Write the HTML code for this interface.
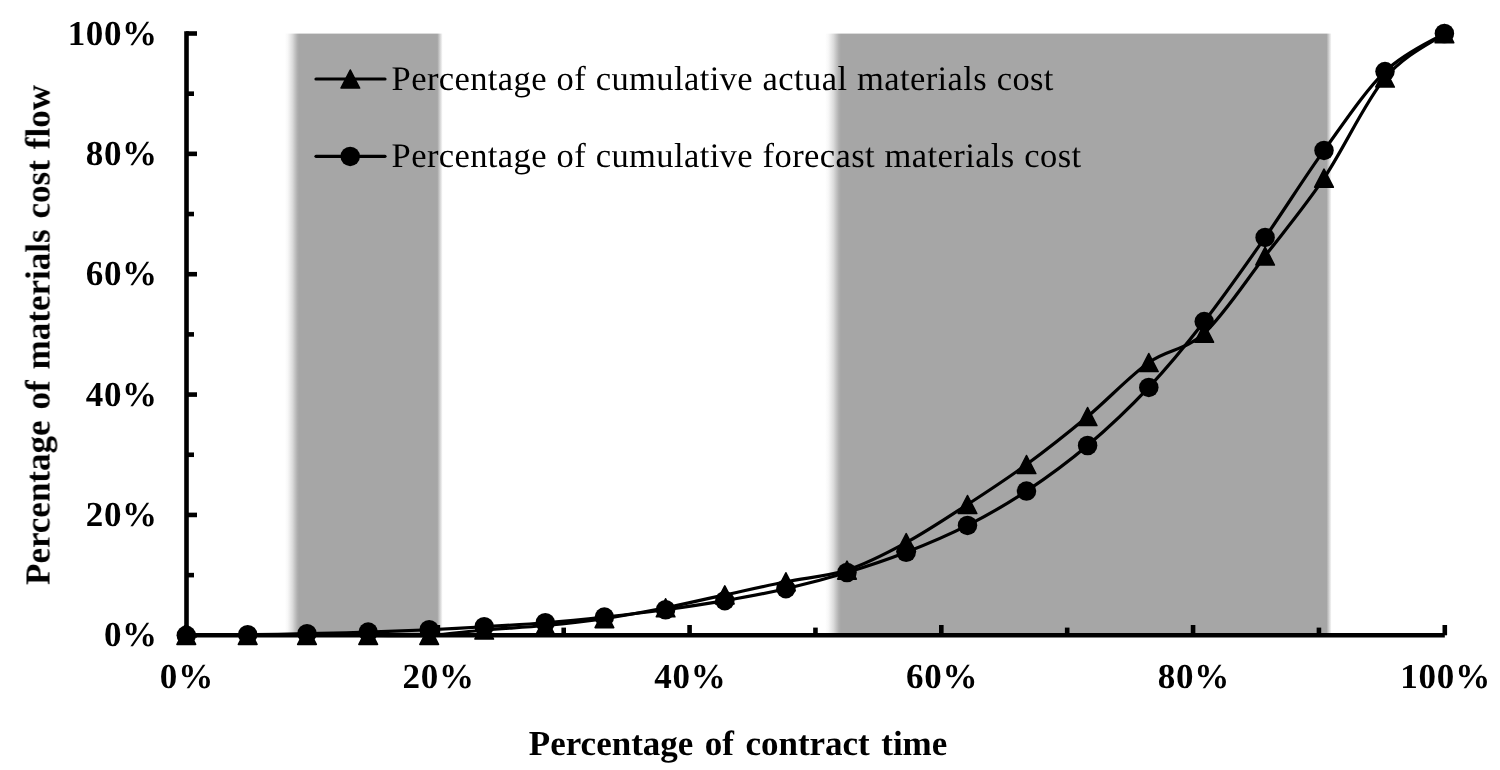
<!DOCTYPE html>
<html><head><meta charset="utf-8"><title>Chart</title>
<style>
html,body{margin:0;padding:0;background:#fff;}
body{text-rendering:geometricPrecision;width:1500px;height:770px;position:relative;overflow:hidden;font-family:"Liberation Serif",serif;color:#000;}
.t{position:absolute;white-space:nowrap;line-height:1;will-change:opacity;}
.yl{font-weight:bold;font-size:35px;text-align:right;width:150px;left:7.6px;letter-spacing:0.6px;}
.xl{font-weight:bold;font-size:35px;text-align:center;width:200px;letter-spacing:0.8px;}
.lg{font-size:34.5px;left:391.6px;word-spacing:0.6px;letter-spacing:0.4px;}
</style></head><body>
<svg width="1500" height="770" viewBox="0 0 1500 770" style="position:absolute;left:0;top:0">
<defs><linearGradient id="g1" gradientUnits="userSpaceOnUse" x1="284.80" y1="0" x2="442.70" y2="0"><stop offset="0.00000" stop-color="#a6a6a6" stop-opacity="0.00"/><stop offset="0.01824" stop-color="#a6a6a6" stop-opacity="0.08"/><stop offset="0.03374" stop-color="#a6a6a6" stop-opacity="0.24"/><stop offset="0.04925" stop-color="#a6a6a6" stop-opacity="0.42"/><stop offset="0.06384" stop-color="#a6a6a6" stop-opacity="0.66"/><stop offset="0.07934" stop-color="#a6a6a6" stop-opacity="0.90"/><stop offset="0.09120" stop-color="#a6a6a6" stop-opacity="1.00"/><stop offset="0.96580" stop-color="#a6a6a6" stop-opacity="1"/><stop offset="1" stop-color="#a6a6a6" stop-opacity="0"/></linearGradient><linearGradient id="g2" gradientUnits="userSpaceOnUse" x1="825.10" y1="0" x2="1331.60" y2="0"><stop offset="0.00000" stop-color="#a6a6a6" stop-opacity="0.00"/><stop offset="0.00628" stop-color="#a6a6a6" stop-opacity="0.08"/><stop offset="0.01162" stop-color="#a6a6a6" stop-opacity="0.24"/><stop offset="0.01695" stop-color="#a6a6a6" stop-opacity="0.42"/><stop offset="0.02197" stop-color="#a6a6a6" stop-opacity="0.66"/><stop offset="0.02731" stop-color="#a6a6a6" stop-opacity="0.90"/><stop offset="0.03139" stop-color="#a6a6a6" stop-opacity="1.00"/><stop offset="0.98993" stop-color="#a6a6a6" stop-opacity="1"/><stop offset="1" stop-color="#a6a6a6" stop-opacity="0"/></linearGradient></defs>
<rect x="284.80" y="33.6" width="157.90" height="601.4" fill="url(#g1)"/>
<rect x="825.10" y="33.6" width="506.50" height="601.4" fill="url(#g2)"/>
<g stroke="#000" stroke-width="4.6" fill="none">
<line x1="186.5" y1="31.2" x2="186.5" y2="637.6"/>
<line x1="184.2" y1="635.3" x2="1444.8" y2="635.3"/>
</g>
<g stroke="#000" stroke-width="4.6" fill="none">
<line x1="186" y1="635.30" x2="197" y2="635.30"/>
<line x1="186" y1="575.12" x2="194" y2="575.12"/>
<line x1="186" y1="514.94" x2="197" y2="514.94"/>
<line x1="186" y1="454.76" x2="194" y2="454.76"/>
<line x1="186" y1="394.58" x2="197" y2="394.58"/>
<line x1="186" y1="334.40" x2="194" y2="334.40"/>
<line x1="186" y1="274.22" x2="197" y2="274.22"/>
<line x1="186" y1="214.04" x2="194" y2="214.04"/>
<line x1="186" y1="153.86" x2="197" y2="153.86"/>
<line x1="186" y1="93.68" x2="194" y2="93.68"/>
<line x1="186" y1="33.50" x2="197" y2="33.50"/>
</g>
<g stroke="#000" stroke-width="4.6" fill="none">
<line x1="186.10" y1="635.3" x2="186.10" y2="625.0"/>
<line x1="311.97" y1="635.3" x2="311.97" y2="627.6"/>
<line x1="437.84" y1="635.3" x2="437.84" y2="625.0"/>
<line x1="563.71" y1="635.3" x2="563.71" y2="627.6"/>
<line x1="689.58" y1="635.3" x2="689.58" y2="625.0"/>
<line x1="815.45" y1="635.3" x2="815.45" y2="627.6"/>
<line x1="941.32" y1="635.3" x2="941.32" y2="625.0"/>
<line x1="1067.19" y1="635.3" x2="1067.19" y2="627.6"/>
<line x1="1193.06" y1="635.3" x2="1193.06" y2="625.0"/>
<line x1="1318.93" y1="635.3" x2="1318.93" y2="627.6"/>
<line x1="1444.80" y1="635.3" x2="1444.80" y2="625.0"/>
</g>
<path d="M186.30,635.40 C196.53,635.40 227.58,635.40 247.70,635.40 C267.82,635.40 286.92,635.40 307.00,635.40 C327.08,635.40 347.83,635.40 368.20,635.40 C388.57,635.40 409.87,636.30 429.20,635.40 C448.53,634.50 464.85,631.65 484.20,630.00 C503.55,628.35 525.27,627.40 545.30,625.50 C565.33,623.60 584.35,621.55 604.40,618.60 C624.45,615.65 645.53,611.75 665.60,607.80 C685.67,603.85 704.75,599.23 724.80,594.90 C744.85,590.57 765.53,585.93 785.90,581.80 C806.27,577.67 826.95,576.63 847.00,570.10 C867.05,563.57 886.12,553.53 906.20,542.60 C926.28,531.67 947.45,517.52 967.50,504.50 C987.55,491.48 1006.48,479.17 1026.50,464.50 C1046.52,449.83 1067.22,433.50 1087.60,416.50 C1107.98,399.50 1129.37,376.38 1148.80,362.50 C1168.23,348.62 1184.82,350.95 1204.20,333.20 C1223.58,315.45 1245.13,281.83 1265.10,256.00 C1285.07,230.17 1304.02,207.87 1324.00,178.20 C1343.98,148.53 1364.93,102.08 1385.00,78.00 C1405.07,53.92 1434.50,41.08 1444.40,33.70" stroke="#000" stroke-width="3.2" fill="none" stroke-linejoin="round" stroke-linecap="round"/>
<g fill="#000" stroke="#000" stroke-width="1.6" stroke-linejoin="round"><path d="M186.30,626.40 L195.60,644.40 L177.00,644.40 Z"/><path d="M247.70,626.40 L257.00,644.40 L238.40,644.40 Z"/><path d="M307.00,626.40 L316.30,644.40 L297.70,644.40 Z"/><path d="M368.20,626.40 L377.50,644.40 L358.90,644.40 Z"/><path d="M429.20,626.40 L438.50,644.40 L419.90,644.40 Z"/><path d="M484.20,621.00 L493.50,639.00 L474.90,639.00 Z"/><path d="M545.30,616.50 L554.60,634.50 L536.00,634.50 Z"/><path d="M604.40,609.60 L613.70,627.60 L595.10,627.60 Z"/><path d="M665.60,598.80 L674.90,616.80 L656.30,616.80 Z"/><path d="M724.80,585.90 L734.10,603.90 L715.50,603.90 Z"/><path d="M785.90,572.80 L795.20,590.80 L776.60,590.80 Z"/><path d="M847.00,561.10 L856.30,579.10 L837.70,579.10 Z"/><path d="M906.20,533.60 L915.50,551.60 L896.90,551.60 Z"/><path d="M967.50,495.50 L976.80,513.50 L958.20,513.50 Z"/><path d="M1026.50,455.50 L1035.80,473.50 L1017.20,473.50 Z"/><path d="M1087.60,407.50 L1096.90,425.50 L1078.30,425.50 Z"/><path d="M1148.80,353.50 L1158.10,371.50 L1139.50,371.50 Z"/><path d="M1204.20,324.20 L1213.50,342.20 L1194.90,342.20 Z"/><path d="M1265.10,247.00 L1274.40,265.00 L1255.80,265.00 Z"/><path d="M1324.00,169.20 L1333.30,187.20 L1314.70,187.20 Z"/><path d="M1385.00,69.00 L1394.30,87.00 L1375.70,87.00 Z"/><path d="M1444.40,24.70 L1453.70,42.70 L1435.10,42.70 Z"/></g>
<path d="M186.30,635.30 C196.53,635.20 227.58,634.97 247.70,634.70 C267.82,634.43 286.92,634.13 307.00,633.70 C327.08,633.27 347.83,632.76 368.20,632.10 C388.57,631.44 409.87,630.64 429.20,629.75 C448.53,628.86 464.85,627.92 484.20,626.75 C503.55,625.58 525.27,624.36 545.30,622.75 C565.33,621.14 584.35,619.27 604.40,617.10 C624.45,614.93 645.53,612.48 665.60,609.75 C685.67,607.02 704.75,604.21 724.80,600.70 C744.85,597.19 765.53,593.40 785.90,588.70 C806.27,584.00 826.95,578.57 847.00,572.50 C867.05,566.43 886.12,560.15 906.20,552.30 C926.28,544.45 947.45,535.60 967.50,525.40 C987.55,515.20 1006.48,504.42 1026.50,491.10 C1046.52,477.78 1067.22,462.78 1087.60,445.50 C1107.98,428.22 1129.37,408.05 1148.80,387.40 C1168.23,366.75 1184.82,346.60 1204.20,321.60 C1223.58,296.60 1245.13,265.93 1265.10,237.40 C1285.07,208.87 1304.02,178.03 1324.00,150.40 C1343.98,122.77 1364.93,91.08 1385.00,71.60 C1405.07,52.12 1434.50,39.85 1444.40,33.50" stroke="#000" stroke-width="3.2" fill="none" stroke-linejoin="round" stroke-linecap="round"/>
<g fill="#000"><circle cx="186.30" cy="635.30" r="9.75"/><circle cx="247.70" cy="634.70" r="9.75"/><circle cx="307.00" cy="633.70" r="9.75"/><circle cx="368.20" cy="632.10" r="9.75"/><circle cx="429.20" cy="629.75" r="9.75"/><circle cx="484.20" cy="626.75" r="9.75"/><circle cx="545.30" cy="622.75" r="9.75"/><circle cx="604.40" cy="617.10" r="9.75"/><circle cx="665.60" cy="609.75" r="9.75"/><circle cx="724.80" cy="600.70" r="9.75"/><circle cx="785.90" cy="588.70" r="9.75"/><circle cx="847.00" cy="572.50" r="9.75"/><circle cx="906.20" cy="552.30" r="9.75"/><circle cx="967.50" cy="525.40" r="9.75"/><circle cx="1026.50" cy="491.10" r="9.75"/><circle cx="1087.60" cy="445.50" r="9.75"/><circle cx="1148.80" cy="387.40" r="9.75"/><circle cx="1204.20" cy="321.60" r="9.75"/><circle cx="1265.10" cy="237.40" r="9.75"/><circle cx="1324.00" cy="150.40" r="9.75"/><circle cx="1385.00" cy="71.60" r="9.75"/><circle cx="1444.40" cy="33.50" r="9.75"/></g>
<g stroke="#000" stroke-width="3.2" stroke-linecap="round"><line x1="316" y1="79" x2="385" y2="79"/><line x1="316" y1="156.3" x2="385" y2="156.3"/></g>
<g fill="#000" stroke="#000" stroke-width="1.6" stroke-linejoin="round"><path d="M350.30,70.00 L359.60,88.00 L341.00,88.00 Z"/></g><circle cx="350.2" cy="156.4" r="9.75" fill="#000"/>
</svg>
<div class="t yl" style="top:617.3px">0%</div>
<div class="t yl" style="top:496.9px">20%</div>
<div class="t yl" style="top:376.6px">40%</div>
<div class="t yl" style="top:256.2px">60%</div>
<div class="t yl" style="top:135.9px">80%</div>
<div class="t yl" style="top:15.5px">100%</div>
<div class="t xl" style="left:86.9px;top:659.3px">0%</div>
<div class="t xl" style="left:338.6px;top:659.3px">20%</div>
<div class="t xl" style="left:590.4px;top:659.3px">40%</div>
<div class="t xl" style="left:842.1px;top:659.3px">60%</div>
<div class="t xl" style="left:1093.9px;top:659.3px">80%</div>
<div class="t xl" style="left:1345.6px;top:659.3px">100%</div>
<div class="t lg" style="top:61.7px">Percentage of cumulative actual materials cost</div>
<div class="t lg" style="top:138.7px">Percentage of cumulative forecast materials cost</div>
<div class="t" style="font-weight:bold;font-size:35px;word-spacing:2.7px;left:528.8px;top:725.5px">Percentage of contract time</div>
<div class="t" id="ytitle" style="font-weight:bold;font-size:35px;word-spacing:2.2px;left:37.5px;top:335px;transform:translate(-50%,-50%) rotate(-90deg);">Percentage of materials cost flow</div>
</body></html>
